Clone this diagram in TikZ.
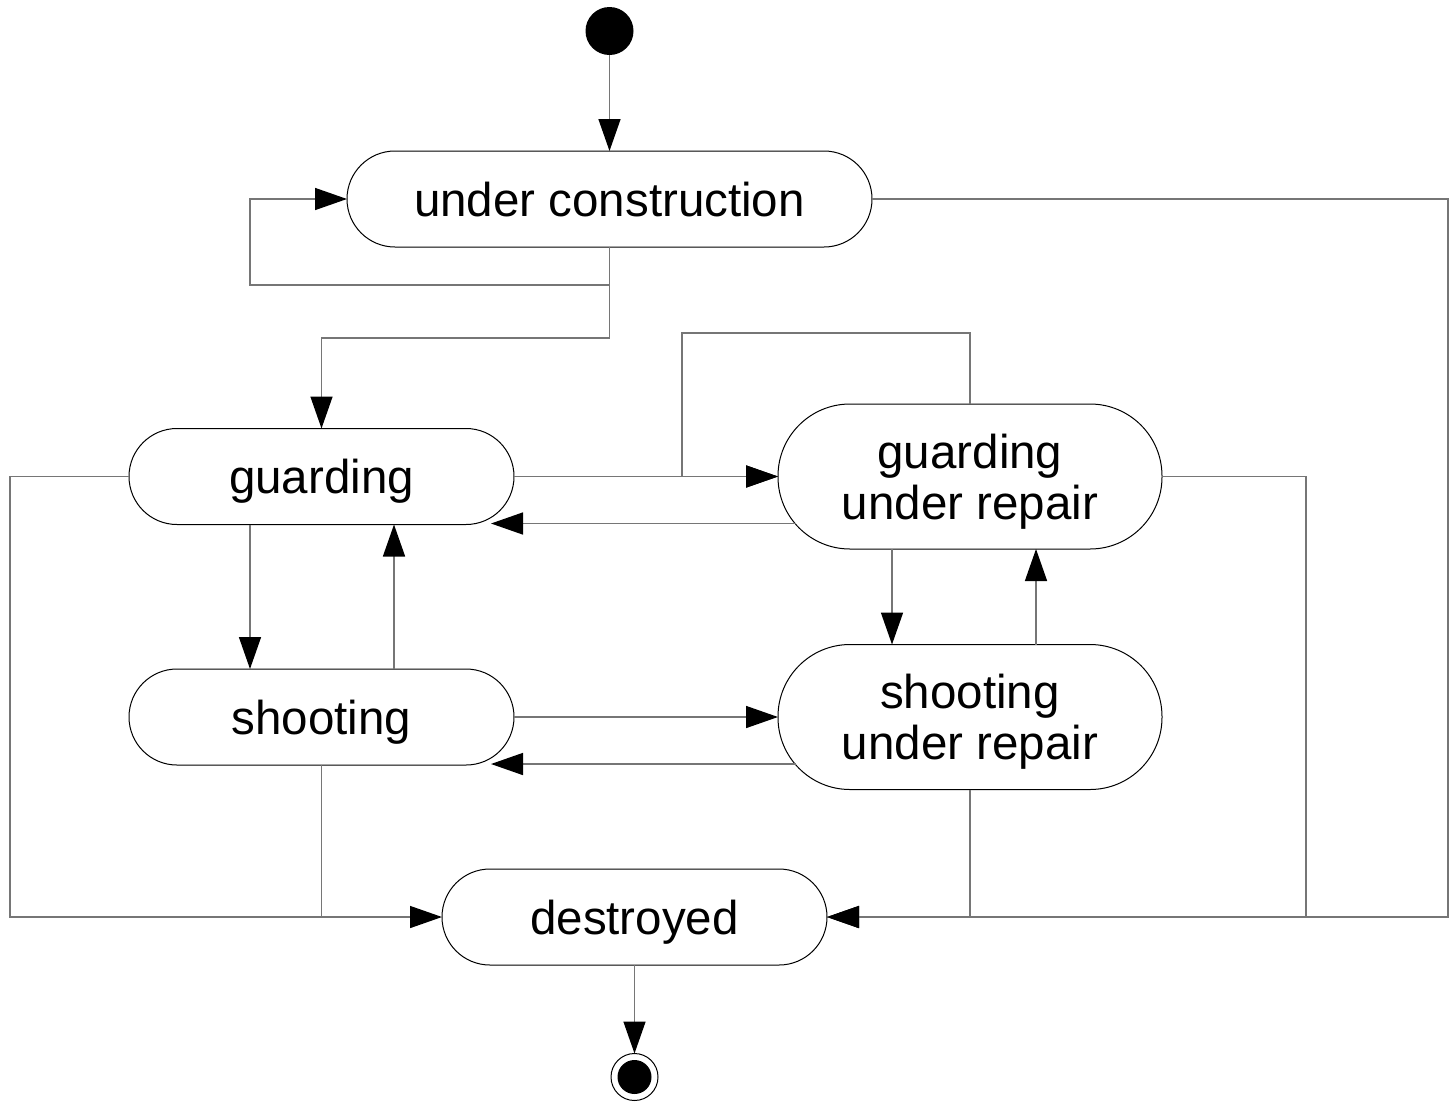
\documentclass[tikz,border=0pt]{standalone}
\usepackage{fontspec}
\setmainfont{Liberation Sans}
\usetikzlibrary{arrows.meta,calc}
\definecolor{ln}{RGB}{118,118,118}
\begin{document}
\begin{tikzpicture}[x=1pt,y=-1pt,
  state/.style={draw=black, line width=1pt, fill=white, rounded corners=48pt,
    minimum height=96pt, inner sep=0pt, outer sep=0pt, align=center,
    text depth=0pt, font=\fontsize{47.5}{51}\selectfont},
  bigstate/.style={state, rounded corners=72pt, minimum height=145pt},
  wire/.style={draw=ln, line width=1.5pt},
  conn/.style={wire, -{Triangle[length=32pt,width=22pt,color=black]}}
]
\useasboundingbox[fill=white] (0,0) rectangle (1450,1101);

% nodes
\node[circle, fill=black, minimum size=48pt, inner sep=0pt, outer sep=0pt] (start) at (609.5,31) {};
\node[state, minimum width=525pt] (uc) at (609.5,199) {under construction};
\node[state, minimum width=385pt] (g) at (321.5,476.5) {guarding};
\node[state, minimum width=385pt] (s) at (321.5,717) {shooting};
\node[bigstate, minimum width=384pt] (gr) at (970,476.5) {guarding\\under repair};
\node[bigstate, minimum width=384pt] (sr) at (970,717) {shooting\\under repair};
\node[state, minimum width=385pt] (d) at (634.5,917) {destroyed};
\node[circle, draw=black, line width=1pt, minimum size=47pt, inner sep=0pt, outer sep=0pt] (end) at (634.5,1077) {};
\node[circle, fill=black, minimum size=34pt, inner sep=0pt] (endin) at (end) {};

% connectors
\draw[conn] (start.south) -- (uc.north);
\draw[conn] (uc.south) -- ++(0,38) -| ([xshift=-97pt]uc.west) -- (uc.west);
\draw[conn] (uc.south) -- ++(0,91) -| (g.north);

\draw[conn] (g.east) -- (gr.west);
\draw[conn] (gr.north) -- ++(0,-71) -| ([xshift=-96pt]gr.west) -- (gr.west);
\draw[conn] ($(gr.west)+(18,47)$) -- ($(g.east)+(-23,47)$);

\draw[conn] (s.east) -- (sr.west);
\draw[conn] ($(sr.west)+(18,47)$) -- ($(s.east)+(-23,47)$);

\draw[conn] ($(g.south)+(-71.5,0)$) -- ($(s.north)+(-71.5,0)$);
\draw[conn] ($(s.north)+(72.5,0)$) -- ($(g.south)+(72.5,0)$);

\draw[conn] ($(gr.south)+(-78,0)$) -- ($(sr.north)+(-78,0)$);
\draw[conn] ($(sr.north)+(66,0)$) -- ($(gr.south)+(66,0)$);

\draw[conn] (g.west) -- ++(-119,0) |- (d.west);
\draw[wire] (s.south) -- (s.south |- d.west);
\draw[conn] (gr.east) -- ++(144,0) |- (d.east);
\draw[wire] (sr.south) -- (sr.south |- d.east);
\draw[conn] (uc.east) -- ++(576,0) |- (d.east);

\draw[conn] (d.south) -- (end.north);
\end{tikzpicture}
\end{document}
